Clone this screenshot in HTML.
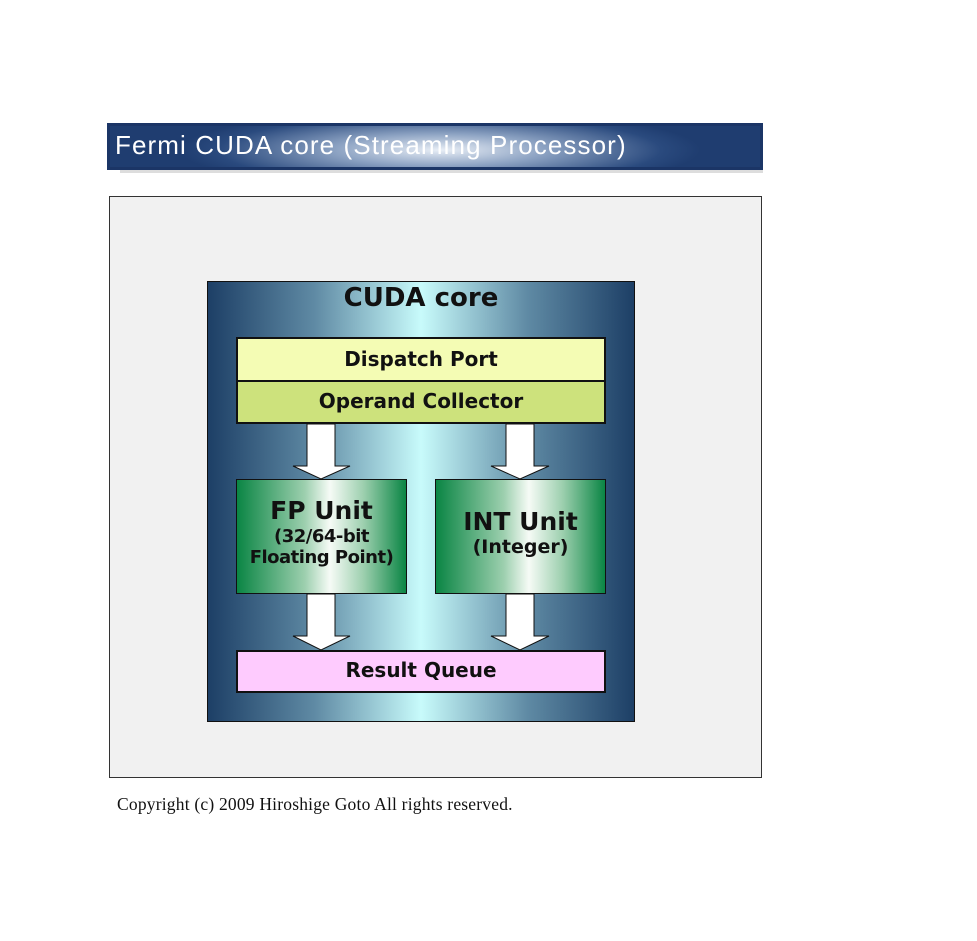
<!DOCTYPE html>
<html><head><meta charset="utf-8"><style>
body{margin:0;width:977px;height:941px;background:#fff;position:relative;overflow:hidden;font-family:"DejaVu Sans","Liberation Sans",sans-serif}
div{position:absolute;box-sizing:border-box}
.title{left:107px;top:123px;width:656px;height:47px;background:radial-gradient(ellipse 260px 40px at 330px 24px,#e8eef6 0%,#8da3c3 40%,#2a4a7e 85%,#1f3d70 100%);border:3px solid #1b3566;color:#fff;font-family:"Liberation Sans",sans-serif;font-size:26px;line-height:38px;padding-left:5px;letter-spacing:1.1px;white-space:nowrap}
.shadow{left:120px;top:168px;width:643px;height:5px;background:#ddd}
.gray{left:109px;top:196px;width:653px;height:582px;background:#f1f1f1;border:1px solid #333}
.core{left:207px;top:281px;width:428px;height:441px;border:1.5px solid #111;background:linear-gradient(to right,#1d3f66 0%,#5f8aa4 25%,#c8fbfb 50%,#5f8aa4 75%,#1d3f66 100%)}
.b{border:2px solid #111;text-align:center;font-weight:bold;color:#111;white-space:nowrap}
.green{background:linear-gradient(to right,#0a8544 0%,#9ccfae 40%,#f6fbf6 55%,#9ccfae 75%,#0a8544 100%)}
.copy{left:117px;top:794px;font-family:"Liberation Serif",serif;font-size:17.5px;letter-spacing:0.2px;color:#111;white-space:nowrap}
</style></head><body>
<div class="shadow"></div>
<div class="title">Fermi CUDA core (Streaming Processor)</div>
<div class="gray"></div>
<div class="core"></div>
<div style="left:207px;top:283px;width:428px;text-align:center;font-weight:bold;font-size:26px;color:#111">CUDA core</div>
<div class="b" style="left:236px;top:337px;width:370px;height:45px;background:#f4fcb4;font-size:20px;line-height:40px">Dispatch Port</div>
<div class="b" style="left:236px;top:380px;width:370px;height:44px;background:#cde27c;font-size:20px;line-height:38px">Operand Collector</div>
<div class="b green" style="left:236px;top:479px;width:171px;height:115px;border-width:1px;line-height:1"><div style="position:static;font-size:25px;margin-top:18px">FP Unit</div><div style="position:static;font-size:18px;margin-top:3px;line-height:21px;letter-spacing:-0.5px">(32/64-bit<br>Floating Point)</div></div>
<div class="b green" style="left:435px;top:479px;width:171px;height:115px;border-width:1px;line-height:1"><div style="position:static;font-size:25px;margin-top:29px">INT Unit</div><div style="position:static;font-size:19px;margin-top:4px">(Integer)</div></div>
<div class="b" style="left:236px;top:650px;width:370px;height:43px;background:#fecbfe;font-size:20px;line-height:37px">Result Queue</div>
<svg style="position:absolute;left:0;top:0" width="977" height="941">
<g fill="#fff" stroke="#111" stroke-width="1">
<polygon points="307,424 335,424 335,466 350,466 321,479 293,466 307,466"/>
<polygon points="506,424 534,424 534,466 549,466 520,479 491,466 506,466"/>
<polygon points="307,594 335,594 335,636 350,636 321,650 293,636 307,636"/>
<polygon points="506,594 534,594 534,636 549,636 520,650 491,636 506,636"/>
</g></svg>
<div class="copy">Copyright (c) 2009 Hiroshige Goto All rights reserved.</div>
</body></html>
